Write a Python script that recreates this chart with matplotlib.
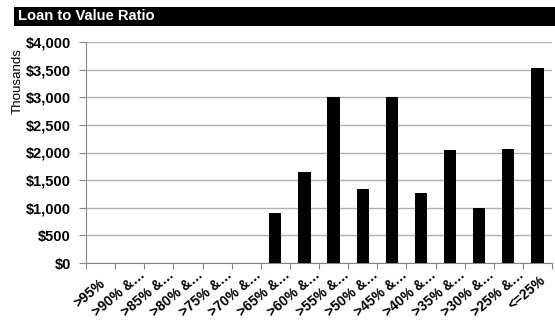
import numpy as np
import matplotlib.pyplot as plt
from matplotlib.patches import Rectangle
from matplotlib.ticker import FuncFormatter, FixedLocator, NullFormatter
from matplotlib.transforms import ScaledTranslation

plt.rcParams['font.family'] = ['Liberation Sans', 'DejaVu Sans']

categories = ['>95%', '>90% &…', '>85% &…', '>80% &…', '>75% &…', '>70% &…',
              '>65% &…', '>60% &…', '>55% &…', '>50% &…', '>45% &…', '>40% &…',
              '>35% &…', '>30% &…', '>25% &…', '<=25%']
balance_k = [0, 0, 0, 0, 0, 0, 905, 1647, 3010, 1334, 3010, 1261, 2045, 1001, 2058, 3524]

fig = plt.figure(figsize=(5.55, 3.21), dpi=100)

# black header strip with white title
fig.patches.append(Rectangle((14 / 555, 1 - 26 / 321), 1 - 14 / 555, 19 / 321,
                             transform=fig.transFigure, facecolor='black',
                             edgecolor='none', zorder=0))
fig.text(18 / 555, 1 - 16.5 / 321, 'Loan to Value Ratio', color='white',
         fontsize=10.6, fontweight='bold', va='center', ha='left')

ax = fig.add_axes([86 / 555, 1 - 263 / 321, 466 / 555, 221 / 321])
x = np.arange(len(categories))
ax.bar(x, balance_k, width=0.42, color='black', zorder=3)

ax.set_xlim(-0.5, len(categories) - 0.5)
ax.set_ylim(0, 4000)
ax.set_yticks(np.arange(0, 4001, 500))
ax.yaxis.set_major_formatter(FuncFormatter(lambda v, p: '${:,.0f}'.format(v)))
ax.grid(axis='y', color='#b0b0b0', linewidth=1, zorder=0)

# ticks at category boundaries
ax.xaxis.set_major_locator(FixedLocator(np.arange(-0.5, len(categories), 1)))
ax.xaxis.set_major_formatter(NullFormatter())
ax.tick_params(axis='x', which='major', length=4, color='#868686', direction='out')
ax.tick_params(axis='y', length=5, color='#868686', labelsize=10.5, pad=6)
for lbl in ax.get_yticklabels():
    lbl.set_fontweight('bold')

# slanted category labels below each bar
shift = ScaledTranslation(-11 / 100, -30 / 100, fig.dpi_scale_trans)
for i, cat in enumerate(categories):
    ax.text(i, 0, cat, transform=ax.get_xaxis_transform() + shift,
            rotation=40, rotation_mode='anchor', ha='center', va='center',
            fontsize=10, fontweight='bold', clip_on=False)

for side in ['top', 'right']:
    ax.spines[side].set_visible(False)
for side in ['left', 'bottom']:
    ax.spines[side].set_color('#868686')

fig.text(18 / 555, 1 - 81 / 321, 'Thousands', rotation=90, fontsize=9.6,
         ha='center', va='center')

fig.savefig('out.png', dpi=100)
